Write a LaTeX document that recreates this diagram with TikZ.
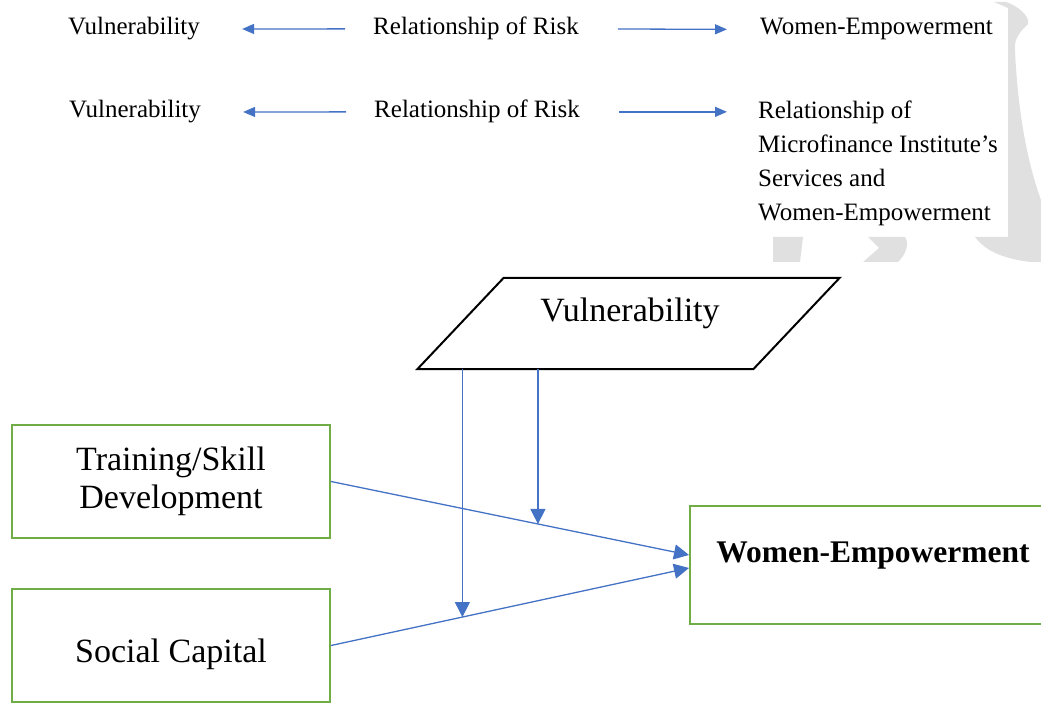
\documentclass[tikz,border=0pt]{standalone}
\usepackage{fontspec}
\setmainfont{Liberation Serif}
\usetikzlibrary{arrows.meta}
\definecolor{linkblue}{HTML}{4472C4}
\definecolor{boxgreen}{HTML}{70AD47}

\begin{document}
\begin{tikzpicture}[x=1pt,y=-1pt,
		small/.style={font=\fontsize{25}{34}\selectfont,inner sep=0pt},
		big/.style={font=\fontsize{34}{38}\selectfont,inner sep=0pt,align=center},
		box/.style={big,draw=boxgreen,line width=2pt,minimum width=318pt,minimum height=113pt},
		link/.style={draw=linkblue,line width=1.3pt,-{Triangle[length=12pt,width=10pt]}},
		flow/.style={draw=linkblue,line width=1.3pt,-{Triangle[length=15pt,width=15pt]}}]
		\useasboundingbox (0,0) rectangle (1041,703);
		% faint mark behind the right column
		\fill[black!12] (994,2) -- (1006,2) .. controls (1018,6) and (1030,16) .. (1028,24)
			.. controls (1020,32) and (1014,38) .. (1015,50)
			.. controls (1018,120) and (1030,170) .. (1041,200) -- (1041,262) -- (1030,262)
			.. controls (1000,258) and (985,250) .. (975,237) -- (1008,237) -- (1008,8) -- cycle;
		\fill[black!12] (773,237) -- (803,237) -- (800,262) -- (773,262) -- cycle;
		\fill[black!12] (868,237) -- (905,237) .. controls (910,245) and (905,255) .. (898,262)
			-- (863,262) -- (879,248) -- cycle;
		% two reading lines
		\node[small,anchor=base] (vulA) at (134,35) {Vulnerability};
		\node[small,anchor=base] (riskA) at (476,35) {Relationship of Risk};
		\node[small,anchor=base west] (empA) at (760,35) {Women-Empowerment};
		\node[small,anchor=base] (vulB) at (135,118) {Vulnerability};
		\node[small,anchor=base] (riskB) at (477,118) {Relationship of Risk};
		\node[small,anchor=north west,align=left] (relB) at (758,101)
			{Relationship of\\Microfinance Institute’s\\Services and\\Women-Empowerment};
		\draw[link,shorten <=28pt,shorten >=42pt] (riskA.west) -- (vulA.east);
		\draw[link,shorten <=39pt,shorten >=33pt] (riskA.east) -- (empA.west);
		\draw[link,shorten <=28pt,shorten >=42pt] (riskB.west) -- (vulB.east);
		\draw[link,shorten <=39pt,shorten >=31pt] (riskB.east) -- (riskB.east -| relB.west);
		% model
		\node[minimum width=334pt,minimum height=89pt,inner sep=0pt,outer sep=1pt] (vul) at (628.5,323.5) {};
		\draw[line width=2pt,line join=miter] ([xshift=-43pt]vul.south west) -- ([xshift=-43pt]vul.south east)
			-- ([xshift=43pt]vul.north east) -- ([xshift=43pt]vul.north west) -- cycle;
		\node[big] (vultxt) at (630,313) {Vulnerability};
		\node[box] (train) at (171,481.5) {Training/Skill\\Development};
		\node[box,text height=41pt] (social) at (171,645.5) {Social Capital};
		\node[box,minimum width=366pt,minimum height=118pt] (wemp) at (873,565) {};
		\node[font=\fontsize{31.5}{36}\selectfont\bfseries,inner sep=0pt] (wetxt) at (873,556) {Women-Empowerment};
		\draw[flow] (train.east) -- coordinate[pos=0.578] (hitA) ([yshift=10pt]wemp.west);
		\draw[flow] (social.east) -- coordinate[pos=0.367] (hitB) ([yshift=-3pt]wemp.west);
		\draw[flow] (hitA |- vul.south) -- (hitA);
		\draw[flow] (hitB |- vul.south) -- (hitB);
	\end{tikzpicture}
\end{document}
